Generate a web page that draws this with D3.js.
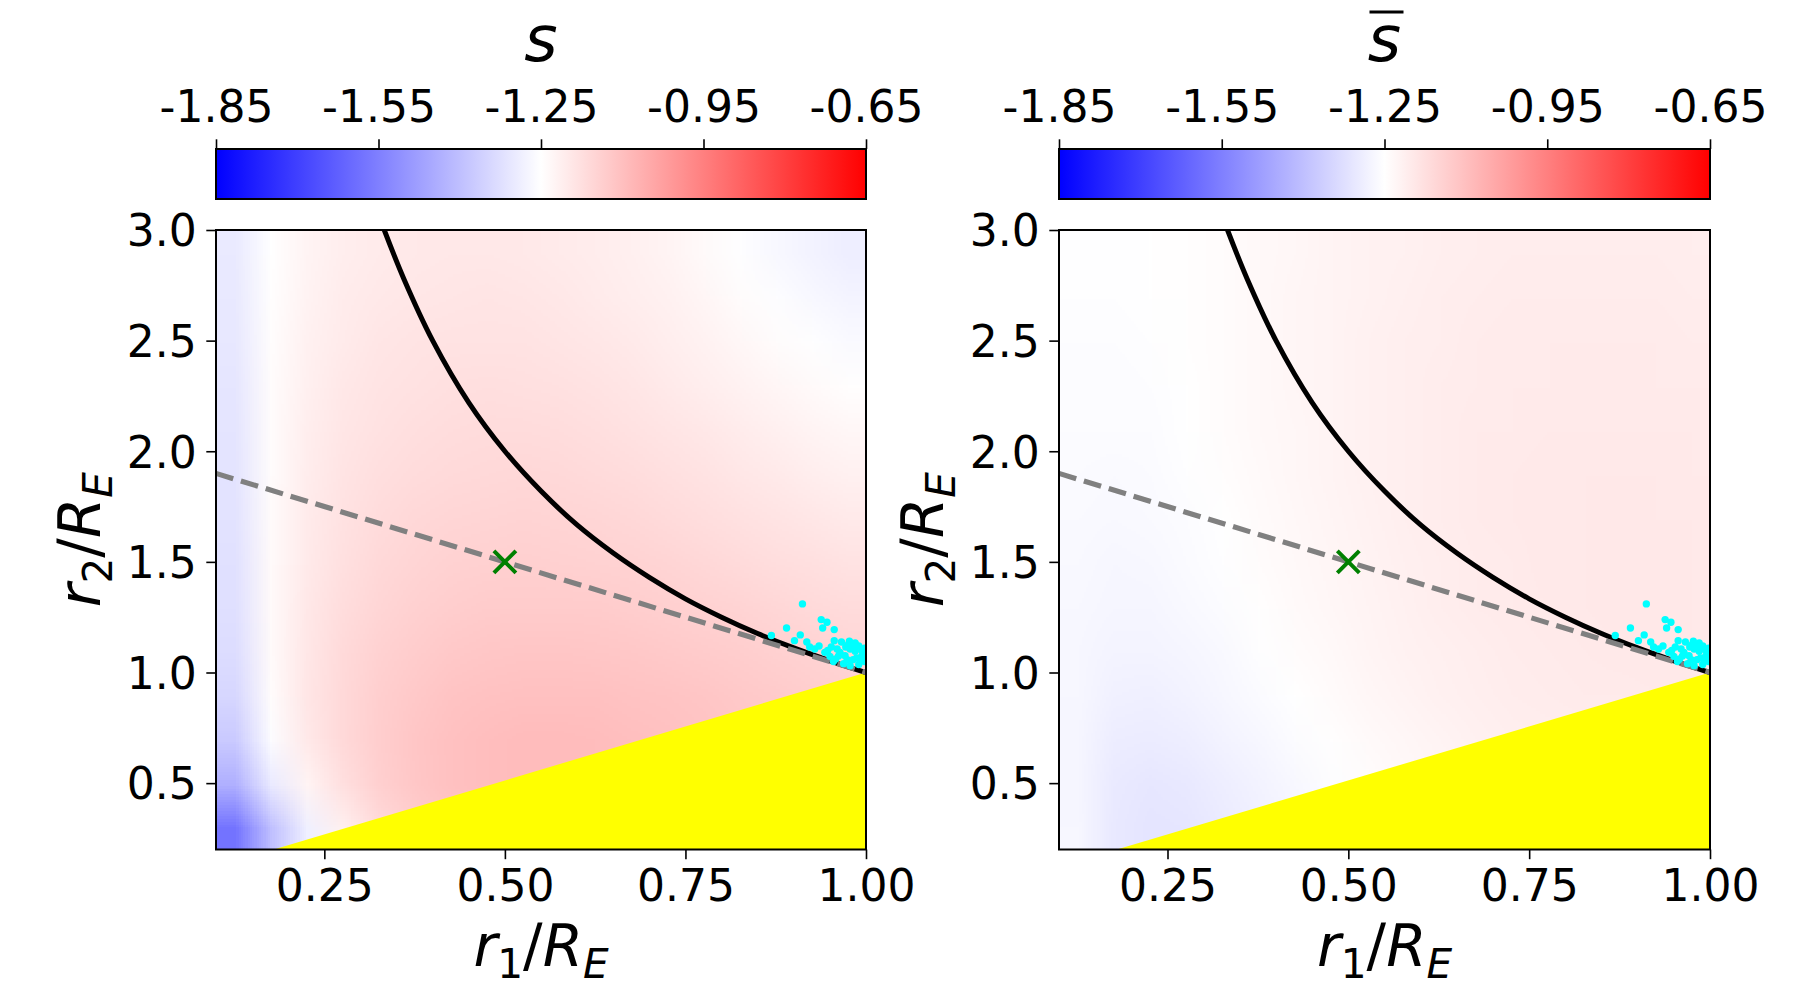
<!DOCTYPE html>
<html>
<head>
<meta charset="utf-8">
<script src="https://cdn.jsdelivr.net/npm/d3@7"></script>
<style>
  body { margin: 0; background: #fff; }
  svg text { font-family: "DejaVu Sans", sans-serif; }
</style>
</head>
<body>
<svg id="chart" width="1800" height="1000"></svg>
<script>
// Tick values and labels
const xTicks = [0.25, 0.5, 0.75, 1.0];
const xTickLabels = ['0.25', '0.50', '0.75', '1.00'];
const yTicks = [0.5, 1.0, 1.5, 2.0, 2.5, 3.0];
const yTickLabels = ['0.5', '1.0', '1.5', '2.0', '2.5', '3.0'];
const cbTicks = [-1.85, -1.55, -1.25, -0.95, -0.65];
const cbTickLabels = ['-1.85', '-1.55', '-1.25', '-0.95', '-0.65'];

// Heatmap grid (cell centres), rows listed top to bottom
const r1Centers = [0.125, 0.175, 0.225, 0.275, 0.325, 0.375, 0.425, 0.475, 0.525, 0.575, 0.625, 0.675, 0.725, 0.775, 0.825, 0.875, 0.925, 0.975];
const r2Centers = [2.9, 2.7, 2.5, 2.3, 2.1, 1.9, 1.7, 1.5, 1.3, 1.1, 0.9, 0.7, 0.5, 0.3];

// s
const sGrid = [
  [-1.300, -1.250, -1.225, -1.210, -1.202, -1.198, -1.196, -1.196, -1.198, -1.202, -1.208, -1.215, -1.225, -1.238, -1.252, -1.266, -1.278, -1.290],
  [-1.302, -1.248, -1.222, -1.206, -1.198, -1.193, -1.191, -1.190, -1.192, -1.196, -1.202, -1.209, -1.218, -1.229, -1.242, -1.255, -1.266, -1.276],
  [-1.305, -1.246, -1.218, -1.202, -1.192, -1.187, -1.184, -1.183, -1.184, -1.188, -1.194, -1.201, -1.210, -1.220, -1.231, -1.242, -1.252, -1.262],
  [-1.308, -1.244, -1.214, -1.197, -1.187, -1.181, -1.177, -1.175, -1.176, -1.179, -1.184, -1.191, -1.200, -1.209, -1.219, -1.229, -1.238, -1.247],
  [-1.311, -1.243, -1.211, -1.192, -1.181, -1.174, -1.170, -1.168, -1.168, -1.170, -1.175, -1.181, -1.189, -1.197, -1.206, -1.215, -1.223, -1.231],
  [-1.314, -1.242, -1.208, -1.187, -1.175, -1.167, -1.162, -1.160, -1.159, -1.161, -1.165, -1.170, -1.177, -1.185, -1.193, -1.201, -1.209, -1.216],
  [-1.317, -1.240, -1.204, -1.182, -1.168, -1.159, -1.154, -1.151, -1.150, -1.151, -1.154, -1.159, -1.165, -1.172, -1.179, -1.187, -1.194, -1.200],
  [-1.320, -1.239, -1.200, -1.176, -1.161, -1.151, -1.145, -1.141, -1.140, -1.141, -1.143, -1.147, -1.152, -1.158, -1.165, -1.172, -1.178, -1.184],
  [-1.324, -1.238, -1.196, -1.170, -1.153, -1.142, -1.135, -1.131, -1.129, -1.129, -1.131, -1.134, -1.139, -1.144, -1.150, -1.156, -1.162, -1.168],
  [-1.330, -1.238, -1.193, -1.164, -1.145, -1.132, -1.124, -1.119, -1.117, -1.117, -1.118, -1.121, -1.125, -1.130, -1.135, -1.141, -1.147, -1.153],
  [-1.345, -1.242, -1.192, -1.160, -1.138, -1.122, -1.112, -1.106, -1.103, -1.103, -1.105, -1.108, -1.112, -1.117, -1.122, -1.128, -1.134, -1.140],
  [-1.375, -1.258, -1.198, -1.160, -1.134, -1.115, -1.103, -1.096, -1.093, -1.093, -1.095, -1.099, -1.104, -1.109, -1.115, -1.121, -1.127, -1.133],
  [-1.435, -1.300, -1.225, -1.175, -1.140, -1.118, -1.104, -1.096, -1.092, -1.092, -1.094, -1.098, -1.103, -1.108, -1.114, -1.120, -1.126, -1.132],
  [-1.580, -1.400, -1.285, -1.215, -1.165, -1.135, -1.115, -1.104, -1.098, -1.096, -1.098, -1.102, -1.107, -1.112, -1.118, -1.124, -1.130, -1.136]
];

// s-bar
const sBarGrid = [
  [-1.252, -1.252, -1.250, -1.247, -1.242, -1.236, -1.230, -1.225, -1.220, -1.216, -1.213, -1.210, -1.208, -1.207, -1.207, -1.207, -1.208, -1.209],
  [-1.253, -1.253, -1.251, -1.247, -1.242, -1.235, -1.229, -1.224, -1.219, -1.215, -1.211, -1.208, -1.206, -1.205, -1.205, -1.205, -1.206, -1.207],
  [-1.254, -1.254, -1.252, -1.248, -1.242, -1.235, -1.229, -1.223, -1.218, -1.213, -1.209, -1.206, -1.204, -1.203, -1.203, -1.203, -1.204, -1.205],
  [-1.256, -1.256, -1.254, -1.249, -1.243, -1.236, -1.229, -1.223, -1.217, -1.212, -1.208, -1.205, -1.203, -1.202, -1.201, -1.201, -1.202, -1.203],
  [-1.258, -1.258, -1.256, -1.251, -1.244, -1.237, -1.230, -1.223, -1.217, -1.212, -1.207, -1.204, -1.202, -1.200, -1.200, -1.200, -1.200, -1.201],
  [-1.260, -1.261, -1.259, -1.253, -1.246, -1.238, -1.231, -1.224, -1.218, -1.212, -1.207, -1.204, -1.201, -1.199, -1.198, -1.198, -1.199, -1.200],
  [-1.262, -1.264, -1.262, -1.256, -1.249, -1.241, -1.233, -1.226, -1.219, -1.213, -1.208, -1.204, -1.201, -1.199, -1.198, -1.197, -1.198, -1.199],
  [-1.264, -1.268, -1.266, -1.260, -1.252, -1.244, -1.236, -1.228, -1.221, -1.215, -1.209, -1.205, -1.202, -1.199, -1.198, -1.197, -1.197, -1.198],
  [-1.266, -1.272, -1.271, -1.265, -1.257, -1.248, -1.239, -1.231, -1.224, -1.217, -1.211, -1.206, -1.203, -1.200, -1.198, -1.197, -1.197, -1.198],
  [-1.268, -1.277, -1.277, -1.271, -1.263, -1.253, -1.244, -1.235, -1.227, -1.220, -1.214, -1.209, -1.205, -1.202, -1.200, -1.199, -1.199, -1.199],
  [-1.270, -1.284, -1.285, -1.279, -1.270, -1.260, -1.250, -1.241, -1.232, -1.225, -1.218, -1.212, -1.208, -1.205, -1.203, -1.202, -1.201, -1.201],
  [-1.272, -1.292, -1.295, -1.289, -1.279, -1.268, -1.257, -1.247, -1.238, -1.230, -1.223, -1.217, -1.212, -1.209, -1.207, -1.205, -1.204, -1.204],
  [-1.272, -1.300, -1.307, -1.301, -1.290, -1.278, -1.266, -1.255, -1.245, -1.236, -1.228, -1.222, -1.217, -1.213, -1.210, -1.208, -1.207, -1.207],
  [-1.268, -1.302, -1.312, -1.308, -1.298, -1.286, -1.274, -1.262, -1.252, -1.242, -1.234, -1.227, -1.221, -1.217, -1.214, -1.212, -1.211, -1.211]
];

// Overlays
const boundaryCurve = [[0.333, 3.0], [0.36, 2.78], [0.4, 2.5], [0.45, 2.22], [0.5, 2.0], [0.55, 1.82], [0.6, 1.667], [0.65, 1.54], [0.7, 1.43], [0.75, 1.333], [0.8, 1.25], [0.85, 1.176], [0.9, 1.111], [0.95, 1.053], [1.0, 1.0]];
const dashedLine = [[0.1, 1.9], [1.0, 1.0]];
const yellowRegion = [[0.18, 0.2], [1.0, 1.0], [1.0, 0.2]];
const refPoint = [0.5, 1.5];
const cyanPoints = [
  [0.912, 1.310], [0.869, 1.167], [0.890, 1.201], [0.909, 1.170], [0.901, 1.144],
  [0.918, 1.138], [0.922, 1.115], [0.929, 1.106], [0.938, 1.239], [0.946, 1.227],
  [0.940, 1.201], [0.956, 1.194], [0.956, 1.144], [0.966, 1.138], [0.977, 1.141],
  [0.985, 1.133], [0.994, 1.100], [0.943, 1.091], [0.950, 1.073], [0.958, 1.061],
  [0.971, 1.076], [0.978, 1.106], [0.987, 1.066], [0.969, 1.040], [0.978, 1.031],
  [0.992, 1.055], [0.964, 1.091], [0.972, 1.115], [0.985, 1.096], [0.994, 1.073],
  [0.952, 1.115], [0.960, 1.106], [0.982, 1.058], [0.990, 1.036], [0.974, 1.058],
  [0.996, 1.085], [0.998, 1.050], [0.962, 1.075], [0.947, 1.100], [0.935, 1.120],
  [0.990, 1.120], [0.975, 1.125], [0.955, 1.050], [0.983, 1.115], [0.998, 1.110]
];

const svg = d3.select('#chart');
const plotTop = 230, plotBottom = 849.5;

const color = d3.scaleLinear()
  .domain([-1.85, -1.25, -0.65])
  .range(['#0000ff', '#ffffff', '#ff0000'])
  .clamp(true);

const defs = svg.append('defs');

// Gradient for the colour bars
const grad = defs.append('linearGradient').attr('id', 'bwr');
color.domain().forEach((d, i) => {
  grad.append('stop').attr('offset', (i / 2 * 100) + '%').attr('stop-color', color(d));
});

function gridImage(grid) {
  const cv = document.createElement('canvas');
  cv.width = r1Centers.length;
  cv.height = r2Centers.length;
  const ctx = cv.getContext('2d');
  const img = ctx.createImageData(cv.width, cv.height);
  grid.forEach((row, j) => {
    row.forEach((v, i) => {
      const c = d3.rgb(color(v));
      const k = (j * cv.width + i) * 4;
      img.data[k] = c.r; img.data[k + 1] = c.g; img.data[k + 2] = c.b; img.data[k + 3] = 255;
    });
  });
  ctx.putImageData(img, 0, 0);
  return cv.toDataURL();
}

function mathLabel(text, sub) {
  const F = +text.attr('font-size');
  text.append('tspan').attr('font-style', 'italic').text('r');
  text.append('tspan').attr('font-size', F * 0.7).attr('dy', F * 0.2).text(sub);
  text.append('tspan').attr('dy', -F * 0.2).text('/');
  text.append('tspan').attr('font-style', 'italic').text('R');
  text.append('tspan').attr('font-style', 'italic').attr('font-size', F * 0.7).attr('dy', F * 0.2).text('E');
}

function drawPanel(left, right, grid, id, barred) {
  const x = d3.scaleLinear().domain([0.1, 1.0]).range([left, right]);
  const y = d3.scaleLinear().domain([0.2, 3.0]).range([plotBottom, plotTop]);

  defs.append('clipPath').attr('id', 'clip' + id)
    .append('rect').attr('x', left).attr('y', plotTop)
    .attr('width', right - left).attr('height', plotBottom - plotTop);

  const g = svg.append('g').attr('clip-path', `url(#clip${id})`);

  // heatmap
  const dx = r1Centers[1] - r1Centers[0];
  const dy = r2Centers[0] - r2Centers[1];
  const x0 = r1Centers[0] - dx / 2, x1 = r1Centers[r1Centers.length - 1] + dx / 2;
  const y1 = r2Centers[0] + dy / 2, y0 = r2Centers[r2Centers.length - 1] - dy / 2;
  g.append('image')
    .attr('href', gridImage(grid))
    .attr('x', x(x0)).attr('y', y(y1))
    .attr('width', x(x1) - x(x0)).attr('height', y(y0) - y(y1))
    .attr('preserveAspectRatio', 'none');

  // yellow region
  g.append('path')
    .attr('d', d3.line().x(d => x(d[0])).y(d => y(d[1]))(yellowRegion) + 'Z')
    .attr('fill', '#ffff00');

  // boundary curve
  g.append('path')
    .attr('d', d3.line().x(d => x(d[0])).y(d => y(d[1])).curve(d3.curveCatmullRom)(boundaryCurve))
    .attr('fill', 'none').attr('stroke', '#000').attr('stroke-width', 5);

  // dashed line
  g.append('path')
    .attr('d', d3.line().x(d => x(d[0])).y(d => y(d[1]))(dashedLine))
    .attr('fill', 'none').attr('stroke', '#808080').attr('stroke-width', 5.2)
    .attr('stroke-dasharray', '18,8');

  // scatter
  g.selectAll('circle.pt').data(cyanPoints).enter().append('circle')
    .attr('class', 'pt')
    .attr('cx', d => x(d[0])).attr('cy', d => y(d[1])).attr('r', 3.7)
    .attr('fill', '#00ffff');

  // green x marker
  const mx = x(refPoint[0]), my = y(refPoint[1]), ms = 11;
  g.append('path')
    .attr('d', `M${mx - ms},${my - ms}L${mx + ms},${my + ms}M${mx - ms},${my + ms}L${mx + ms},${my - ms}`)
    .attr('stroke', '#008000').attr('stroke-width', 4);

  // axes
  const ax = svg.append('g').attr('transform', `translate(0,${plotBottom})`)
    .call(d3.axisBottom(x).tickValues(xTicks).tickFormat((d, i) => xTickLabels[i]).tickSize(9.7).tickPadding(11));
  const ay = svg.append('g').attr('transform', `translate(${left},0)`)
    .call(d3.axisLeft(y).tickValues(yTicks).tickFormat((d, i) => yTickLabels[i]).tickSize(9.7).tickPadding(9.5));
  [ax, ay].forEach(a => {
    a.select('.domain').remove();
    a.attr('font-family', null).attr('font-size', 44);
    a.selectAll('line').attr('stroke-width', 1.6);
    a.selectAll('text').attr('fill', '#000');
  });
  ay.selectAll('text').attr('dy', '0.36em');

  svg.append('rect').attr('x', left).attr('y', plotTop)
    .attr('width', right - left).attr('height', plotBottom - plotTop)
    .attr('fill', 'none').attr('stroke', '#000').attr('stroke-width', 2);

  // axis labels
  const xl = svg.append('text').attr('x', (left + right) / 2).attr('y', 966)
    .attr('text-anchor', 'middle').attr('font-size', 58);
  mathLabel(xl, '1');
  const yl = svg.append('text')
    .attr('transform', `translate(${left - 116},${(plotTop + plotBottom) / 2}) rotate(-90)`)
    .attr('text-anchor', 'middle').attr('font-size', 58);
  mathLabel(yl, '2');

  // colour bar
  const cb = d3.scaleLinear().domain([-1.85, -0.65]).range([left, right]);
  svg.append('rect').attr('x', left).attr('y', 149).attr('width', right - left).attr('height', 50)
    .attr('fill', 'url(#bwr)').attr('stroke', '#000').attr('stroke-width', 2);
  const ac = svg.append('g').attr('transform', 'translate(0,149)')
    .call(d3.axisTop(cb).tickValues(cbTicks).tickFormat((d, i) => cbTickLabels[i]).tickSize(9.7).tickPadding(17));
  ac.select('.domain').remove();
  ac.attr('font-family', null).attr('font-size', 44);
  ac.selectAll('line').attr('stroke-width', 1.6);
  ac.selectAll('text').attr('fill', '#000');

  const cx = (left + right) / 2;
  svg.append('text').attr('x', cx).attr('y', 61).attr('text-anchor', 'middle')
    .attr('font-size', 64).attr('font-style', 'italic').text('s');
  if (barred) {
    svg.append('line').attr('x1', cx - 15).attr('x2', cx + 19).attr('y1', 12).attr('y2', 12)
      .attr('stroke', '#000').attr('stroke-width', 3.2);
  }
}

drawPanel(216, 866, sGrid, 'L', false);
drawPanel(1059, 1710, sBarGrid, 'R', true);
</script>
</body>
</html>
